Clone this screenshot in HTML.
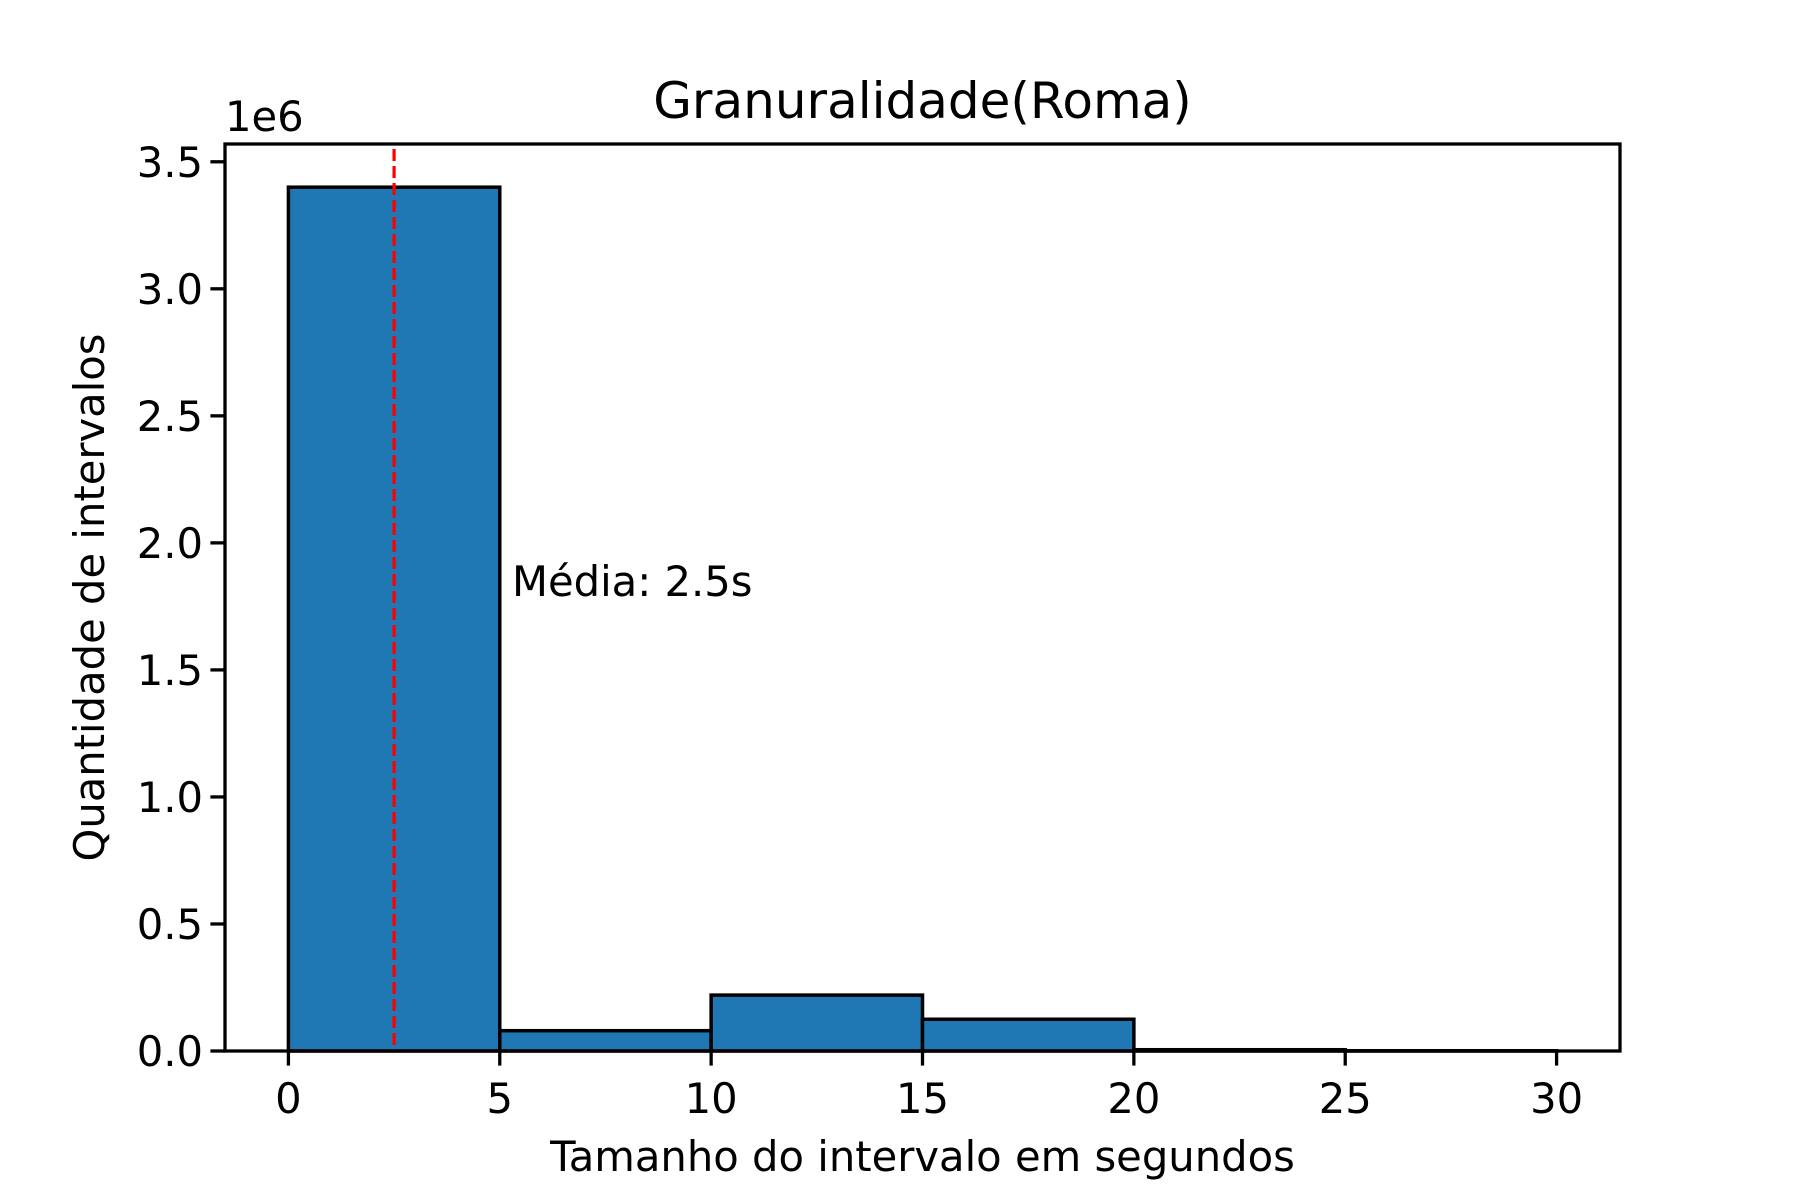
<!DOCTYPE html>
<html><head><meta charset="utf-8"><style>
html,body{margin:0;padding:0;background:#fff}
svg{display:block;font-family:"DejaVu Sans","Liberation Sans",sans-serif}
</style></head><body>
<svg id="chart" width="1800" height="1200" viewBox="0 0 1800 1200" xmlns="http://www.w3.org/2000/svg">
<rect width="1800" height="1200" fill="#fff"/>
<g id="bars"></g>
<g id="axes"></g>
</svg>
<script>
const binEdges = [0, 5, 10, 15, 20, 25, 30];
const counts = [3.40, 0.08, 0.22, 0.125, 0.005, 0.001];
const xTicks = [0, 5, 10, 15, 20, 25, 30];
const yTicks = [0.0, 0.5, 1.0, 1.5, 2.0, 2.5, 3.0, 3.5];
const meanValue = [2.5];

const L=225,R=1620,T=144,B=1051;
const xmin=-1.5,xmax=31.5,ymin=0,ymax=3.57;
const sx=v=>L+(v-xmin)/(xmax-xmin)*(R-L);
const sy=v=>B-(v-ymin)/(ymax-ymin)*(B-T);
const NS='http://www.w3.org/2000/svg';
function mk(tag,attrs,parent,text){const e=document.createElementNS(NS,tag);for(const k in attrs)e.setAttribute(k,attrs[k]);if(text!==undefined)e.textContent=text;parent.appendChild(e);return e;}
const bars=document.getElementById('bars'),axes=document.getElementById('axes');
counts.forEach((c,i)=>{
  const x0=sx(binEdges[i]),x1=sx(binEdges[i+1]),y=sy(c);
  const r=mk('rect',{x:x0,y:y,width:x1-x0,height:B-y,fill:'#1f77b4',stroke:'#000','stroke-width':3.5},bars);
  
  
});
const ml=mk('line',{x1:sx(meanValue[0]),x2:sx(meanValue[0]),y1:T+5,y2:B,stroke:'#ff0000','stroke-width':3.2,'stroke-dasharray':'12,5'},axes);


const mt=mk('text',{x:512,y:596,'font-size':41.7,fill:'#000'},axes,'Média: '+meanValue[0]+'s');


const fr=mk('rect',{x:L,y:T,width:R-L,height:B-T,fill:'none',stroke:'#000','stroke-width':3.3},axes);


xTicks.forEach(v=>{
  const x=sx(v);
  const tk=mk('line',{x1:x,x2:x,y1:B,y2:B+14.6,stroke:'#000','stroke-width':3.3},axes);
  
  
  const t=mk('text',{x:x,y:1113,'font-size':41.7,'text-anchor':'middle',fill:'#000'},axes,String(v));
  
  
});
yTicks.forEach(v=>{
  const y=sy(v);
  const tk=mk('line',{x1:L-14.6,x2:L,y1:y,y2:y,stroke:'#000','stroke-width':3.3},axes);
  
  
  const t=mk('text',{x:L-22,y:y+15,'font-size':41.7,'text-anchor':'end',fill:'#000'},axes,v.toFixed(1));
  
  
});
const off=mk('text',{x:225,y:131,'font-size':41.7,fill:'#000'},axes,'1e6');


const ti=mk('text',{x:(L+R)/2,y:118,'font-size':50,'text-anchor':'middle',fill:'#000'},axes,'Granuralidade(Roma)');


const xl=mk('text',{x:(L+R)/2,y:1171,'font-size':41.7,'text-anchor':'middle',fill:'#000'},axes,'Tamanho do intervalo em segundos');


const yl=mk('text',{x:0,y:0,'font-size':41.7,'text-anchor':'middle',fill:'#000',transform:'translate(104,'+((T+B)/2)+') rotate(-90)'},axes,'Quantidade de intervalos');


</script>
</body></html>
